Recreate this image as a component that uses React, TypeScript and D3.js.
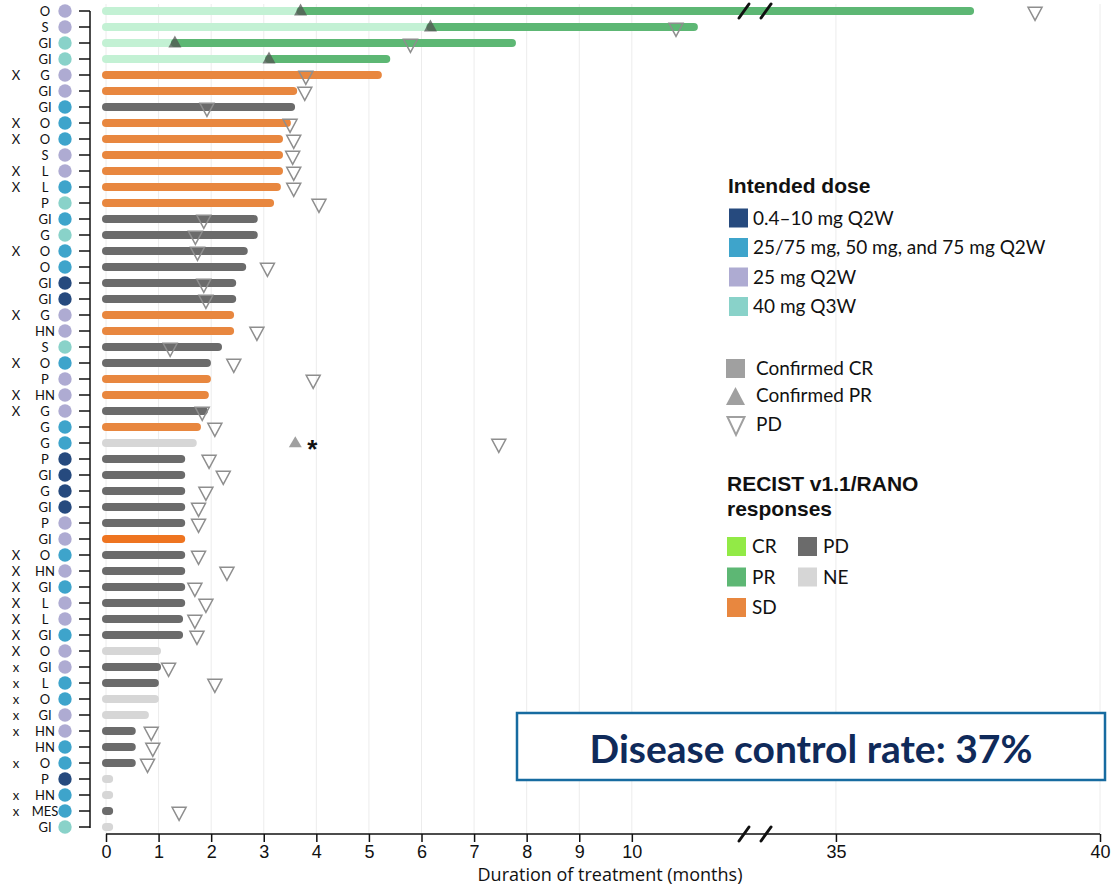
import React, { useEffect, useRef } from 'react';
import * as d3 from 'd3';

// one entry per patient, top to bottom
const tumorTypes = ['O','S','GI','GI','G','GI','GI','O','O','S','L','L','P','GI','G','O','O','GI','GI','G','HN','S','O','P','HN','G','G','G','P','GI','G','GI','P','GI','O','HN','GI','L','L','GI','O','GI','L','O','GI','HN','HN','O','P','HN','MES','GI'];
const doseGroup = ['p','p','t','t','p','p','b','b','b','p','p','b','t','b','t','b','b','n','n','p','p','t','b','p','p','p','b','b','n','n','n','n','p','p','b','p','b','p','p','b','p','p','b','b','p','p','b','b','n','b','b','t'];
const xMarks = ['','','','','X','','','X','X','','X','X','','','','X','','','','X','','','X','','X','X','','','','','','','','','X','X','X','X','X','X','X','x','x','x','x','x','','x','','x','x',''];
const duration = [37.54,11.18,7.72,5.33,5.17,3.56,3.52,3.44,3.29,3.29,3.29,3.25,3.12,2.81,2.81,2.62,2.59,2.4,2.4,2.36,2.36,2.13,1.92,1.92,1.88,1.86,1.73,1.65,1.43,1.43,1.43,1.43,1.43,1.43,1.43,1.43,1.43,1.43,1.39,1.39,0.97,0.97,0.93,0.93,0.74,0.49,0.49,0.49,0.06,0.06,0.06,0.06];
const response = ['PR','PR','PR','PR','SD','SD','PD','SD','SD','SD','SD','SD','SD','PD','PD','PD','PD','PD','PD','SD','SD','PD','PD','SD','SD','PD','SD','NE','PD','PD','PD','PD','PD','SD2','PD','PD','PD','PD','PD','PD','NE','PD','PD','NE','NE','PD','PD','PD','NE','NE','PD','NE'];
const prTime = [3.7,6.17,1.31,3.1,null,null,null,null,null,null,null,null,null,null,null,null,null,null,null,null,null,null,null,null,null,null,null,null,null,null,null,null,null,null,null,null,null,null,null,null,null,null,null,null,null,null,null,null,null,null,null,null];
const pdTime = [38.77,10.84,5.79,null,3.8,3.78,1.92,3.5,3.57,3.55,3.57,3.57,4.05,1.86,1.7,1.74,3.07,1.86,1.9,null,2.87,1.22,2.43,3.94,null,1.83,2.07,7.47,1.96,2.23,1.9,1.76,1.76,null,1.76,2.3,1.69,1.9,1.69,1.73,null,1.19,2.07,null,null,0.86,0.89,0.79,null,null,1.39,null];
// unconfirmed PR noted with asterisk
const noteRow = 27;
const noteTime = 3.6;

const xTicks = [0,1,2,3,4,5,6,7,8,9,10,35,40];

const doseColor = { n: '#264a7e', b: '#3ea4cb', p: '#aeabd2', t: '#89d2c9' };
const respColor = { CR: '#92ea46', PR: '#5db774', SD: '#e8873f', SD2: '#ee7420', PD: '#6b6b6b', NE: '#d6d6d6' };
const lightGreen = '#c3f1d4';

const doseLegend = [
  ['n', '0.4–10 mg Q2W'],
  ['b', '25/75 mg, 50 mg, and 75 mg Q2W'],
  ['p', '25 mg Q2W'],
  ['t', '40 mg Q3W'],
];
const respLegend = [['CR', 0, 0], ['PR', 0, 1], ['SD', 0, 2], ['PD', 1, 0], ['NE', 1, 1]];

const W = 1112;
const H = 887;
const calibri = 'Lato, "Open Sans", sans-serif';
const arial = '"Liberation Sans", Arial, sans-serif';

const App = () => {
  const svgRef = useRef(null);

  useEffect(() => {
    const svg = d3.select(svgRef.current);
    svg.selectAll('*').remove();

    const x = d3.scaleLinear().domain([0, 12, 33.6, 40]).range([106, 737, 762, 1100]);
    const rows = d3.range(tumorTypes.length);
    const y = d3.scalePoint().domain(rows).range([11, 827]);
    const axisY = 834;

    // grid
    svg.append('g').selectAll('line').data(xTicks).join('line')
      .attr('x1', (d) => x(d)).attr('x2', (d) => x(d))
      .attr('y1', 4).attr('y2', axisY)
      .attr('stroke', '#ececec').attr('stroke-width', 1);

    // x axis
    const xa = svg.append('g').attr('transform', `translate(0,${axisY})`)
      .call(d3.axisBottom(x).tickValues(xTicks).tickSize(8).tickPadding(3).tickFormat(d3.format('d')));
    xa.select('.domain').attr('stroke', '#111').attr('stroke-width', 1.5).attr('d', `M${x(0)},0H${x(40)}`);
    xa.selectAll('.tick line').attr('stroke', '#111').attr('stroke-width', 1.5);
    xa.selectAll('.tick text').attr('font-family', arial).attr('font-size', 18).attr('fill', '#111');

    svg.append('text').attr('x', 610).attr('y', 881).attr('text-anchor', 'middle')
      .attr('font-family', '"Open Sans", sans-serif').attr('font-size', 18).attr('fill', '#111')
      .text('Duration of treatment (months)');

    // y axis
    svg.append('line').attr('x1', 90).attr('x2', 90).attr('y1', y(0)).attr('y2', y(rows.length - 1) + 1)
      .attr('stroke', '#111').attr('stroke-width', 1.5);
    svg.append('g').selectAll('line').data(rows).join('line')
      .attr('x1', 79).attr('x2', 90).attr('y1', (d) => y(d)).attr('y2', (d) => y(d))
      .attr('stroke', '#111').attr('stroke-width', 1.5);

    // row labels
    const lab = svg.append('g');
    lab.selectAll('text.t').data(rows).join('text').attr('class', 't')
      .attr('x', 45).attr('y', (d) => y(d) + 4.5).attr('text-anchor', 'middle')
      .attr('font-family', calibri).attr('font-size', 13).attr('fill', '#111')
      .text((d) => tumorTypes[d]);
    lab.selectAll('text.x').data(rows.filter((d) => xMarks[d])).join('text').attr('class', 'x')
      .attr('x', 16).attr('y', (d) => y(d) + 4.5).attr('text-anchor', 'middle')
      .attr('font-family', calibri).attr('font-size', 13).attr('fill', '#111')
      .text((d) => xMarks[d]);
    lab.selectAll('circle').data(rows).join('circle')
      .attr('cx', 65).attr('cy', (d) => y(d)).attr('r', 6.7)
      .attr('fill', (d) => doseColor[doseGroup[d]]);

    // bars
    const bars = svg.append('g').attr('stroke-linecap', 'round').attr('stroke-width', 8);
    rows.forEach((i) => {
      const cy = y(i);
      if (prTime[i] != null) {
        bars.append('line').attr('x1', x(0)).attr('x2', x(prTime[i])).attr('y1', cy).attr('y2', cy)
          .attr('stroke', lightGreen);
        bars.append('line').attr('x1', x(prTime[i])).attr('x2', x(duration[i])).attr('y1', cy).attr('y2', cy)
          .attr('stroke', respColor.PR);
      } else {
        bars.append('line').attr('x1', x(0)).attr('x2', x(duration[i])).attr('y1', cy).attr('y2', cy)
          .attr('stroke', respColor[response[i]]);
      }
    });

    // PR markers
    const upTri = (cx, cy, w, h) => `M${cx},${cy - h * 0.62}L${cx + w / 2},${cy + h * 0.38}L${cx - w / 2},${cy + h * 0.38}Z`;
    const downTri = (cx, cy, w, h) => `M${cx - w / 2},${cy - h * 0.4}L${cx + w / 2},${cy - h * 0.4}L${cx},${cy + h * 0.6}Z`;
    svg.append('g').selectAll('path').data(rows.filter((d) => prTime[d] != null)).join('path')
      .attr('d', (d) => upTri(x(prTime[d]), y(d), 13, 12))
      .attr('fill', '#505050').attr('fill-opacity', 0.72);
    svg.append('path').attr('d', upTri(x(noteTime), y(noteRow), 13, 11)).attr('fill', '#a0a0a0');
    svg.append('text').attr('x', x(noteTime) + 12).attr('y', y(noteRow) + 15)
      .attr('font-family', arial).attr('font-weight', 'bold').attr('font-size', 26).attr('fill', '#111').text('*');

    // PD markers
    svg.append('g').selectAll('path').data(rows.filter((d) => pdTime[d] != null)).join('path')
      .attr('d', (d) => downTri(x(pdTime[d]), y(d) + 1.5, 14, 13))
      .attr('fill', 'none').attr('stroke', '#8e8e8e').attr('stroke-width', 1.5).attr('stroke-linejoin', 'miter');

    // axis breaks
    const slash = (cx, cy) => `M${cx - 5},${cy + 7}L${cx + 5},${cy - 7}`;
    [[744, y(0)], [766, y(0)], [744, axisY], [766, axisY]].forEach(([bx, by]) => {
      svg.append('path').attr('d', slash(bx, by)).attr('stroke', '#111').attr('stroke-width', 3).attr('stroke-linecap', 'round');
    });

    // legend: dose
    const lg = svg.append('g');
    lg.append('text').attr('x', 728).attr('y', 193).attr('font-family', arial).attr('font-weight', 'bold')
      .attr('font-size', 21).attr('fill', '#111').text('Intended dose');
    doseLegend.forEach(([k, label], i) => {
      const cy = 218 + i * 29.5;
      lg.append('rect').attr('x', 729).attr('y', cy - 9.5).attr('width', 19).attr('height', 19).attr('fill', doseColor[k]);
      lg.append('text').attr('x', 753).attr('y', cy + 6.5).attr('font-family', calibri).attr('font-size', 19)
        .attr('fill', '#111').text(label);
    });

    // legend: markers
    lg.append('rect').attr('x', 726).attr('y', 359).attr('width', 19).attr('height', 19).attr('fill', '#a0a0a0');
    lg.append('text').attr('x', 756).attr('y', 375).attr('font-family', calibri).attr('font-size', 19).attr('fill', '#111').text('Confirmed CR');
    lg.append('path').attr('d', `M735.5,387L745,405L726,405Z`).attr('fill', '#a0a0a0');
    lg.append('text').attr('x', 756).attr('y', 402).attr('font-family', calibri).attr('font-size', 19).attr('fill', '#111').text('Confirmed PR');
    lg.append('path').attr('d', `M727.5,417L744.5,417L736,435Z`).attr('fill', 'none').attr('stroke', '#a0a0a0').attr('stroke-width', 2);
    lg.append('text').attr('x', 756).attr('y', 431).attr('font-family', calibri).attr('font-size', 19).attr('fill', '#111').text('PD');

    // legend: responses
    lg.append('text').attr('x', 727).attr('y', 491).attr('font-family', arial).attr('font-weight', 'bold')
      .attr('font-size', 21).attr('fill', '#111').text('RECIST v1.1/RANO');
    lg.append('text').attr('x', 727).attr('y', 516).attr('font-family', arial).attr('font-weight', 'bold')
      .attr('font-size', 21).attr('fill', '#111').text('responses');
    respLegend.forEach(([k, col, row]) => {
      const lx = col === 0 ? 727 : 798;
      const cy = 546.5 + row * 30.5;
      lg.append('rect').attr('x', lx).attr('y', cy - 9.5).attr('width', 19).attr('height', 19).attr('fill', respColor[k]);
      lg.append('text').attr('x', lx + 25).attr('y', cy + 6.5).attr('font-family', calibri).attr('font-size', 19)
        .attr('fill', '#111').text(k);
    });

    // disease control box
    svg.append('rect').attr('x', 517).attr('y', 713).attr('width', 588).attr('height', 67)
      .attr('fill', 'white').attr('stroke', '#176ba0').attr('stroke-width', 2.5);
    svg.append('text').attr('x', 811).attr('y', 763).attr('text-anchor', 'middle')
      .attr('font-family', calibri).attr('font-weight', 'bold').attr('font-size', 39).attr('fill', '#0f2a5a')
      .text('Disease control rate: 37%');
  }, []);

  return (
    <svg ref={svgRef} width={W} height={H} style={{ position: 'absolute', left: 0, top: 0, background: 'white' }}></svg>
  );
};

export default App;
